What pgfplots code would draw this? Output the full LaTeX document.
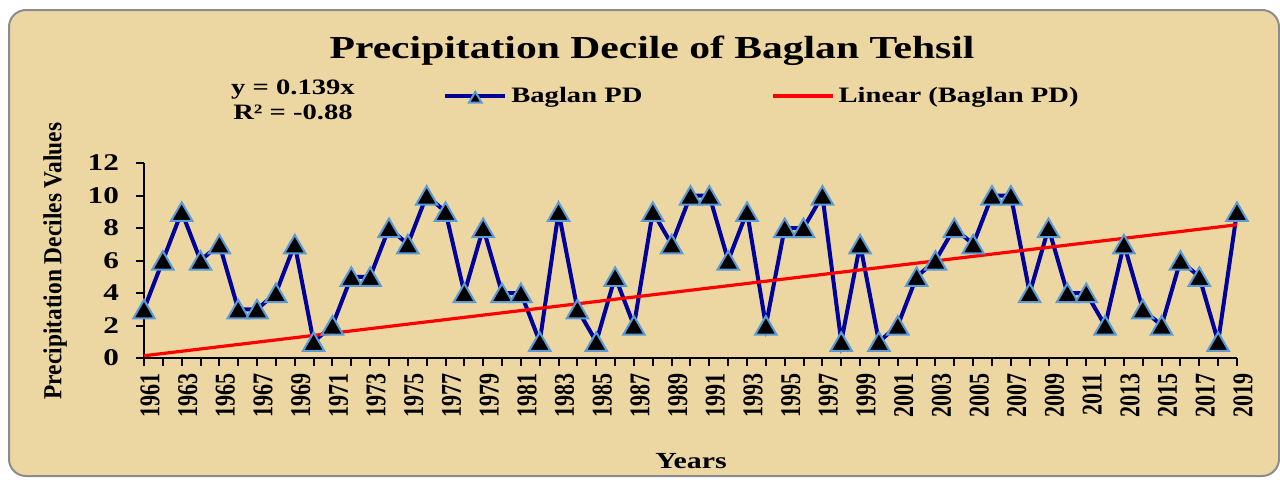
\documentclass[border=0pt]{standalone}
\usepackage{fontspec}
\setmainfont{Liberation Serif}[FakeStretch=1.3]
\newfontfamily\yearfont{Liberation Serif}[FakeStretch=0.77]
\newfontfamily\ylabfont{Liberation Serif}[FakeStretch=0.9]
\usepackage{pgfplots}
\pgfplotsset{compat=1.18}
\usepackage{pgfplotstable}
\definecolor{papyrus}{RGB}{236,215,163}
\definecolor{navyline}{RGB}{0,0,155}
\definecolor{mblue}{RGB}{91,155,213}
\definecolor{bordergray}{RGB}{140,140,140}

\pgfplotstableread{
year pd
1961 3
1962 6
1963 9
1964 6
1965 7
1966 3
1967 3
1968 4
1969 7
1970 1
1971 2
1972 5
1973 5
1974 8
1975 7
1976 10
1977 9
1978 4
1979 8
1980 4
1981 4
1982 1
1983 9
1984 3
1985 1
1986 5
1987 2
1988 9
1989 7
1990 10
1991 10
1992 6
1993 9
1994 2
1995 8
1996 8
1997 10
1998 1
1999 7
2000 1
2001 2
2002 5
2003 6
2004 8
2005 7
2006 10
2007 10
2008 4
2009 8
2010 4
2011 4
2012 2
2013 7
2014 3
2015 2
2016 6
2017 5
2018 1
2019 9
}\pddata

\pgfplotstableread{
year trend
1961 0.139
2019 8.201
}\trenddata

\begin{document}
\begin{tikzpicture}[x=1pt,y=1pt]
\fill[white] (0,0) rectangle (640,-239.5);
\draw[fill=papyrus, draw=bordergray, line width=1pt, rounded corners=8.5pt] (4.5,-5) rectangle (639.5,-238);
\begin{axis}[
  at={(72pt,-179pt)}, anchor=south west,
  scale only axis, width=546.5pt, height=97.5pt,
  xmin=1961, xmax=2019, ymin=0, ymax=12,
  axis x line*=bottom, axis y line*=left,
  axis line style={black, line width=1pt, -},
  xtick={1961,1963,...,2019},
  minor xtick={1962,1964,...,2018},
  ytick={0,2,...,12},
  tick align=outside,
  major tick length=4pt, minor tick length=4pt,
  every tick/.style={black, line width=1pt},
  every minor tick/.style={black, line width=1pt},
  clip=false,
  /pgf/number format/assume math mode=true,
  /pgf/number format/1000 sep={},
  yticklabel style={font=\bfseries\fontsize{12}{13}\selectfont, xshift=-5pt},
  xticklabel style={rotate=90, anchor=east, yshift=-3pt, font=\yearfont\bfseries\fontsize{14.3}{15}\selectfont},
  legend columns=2,
  legend style={at={(axis description cs:0.268,1.344)}, anchor=west, draw=none, fill=none,
    font=\bfseries\fontsize{11}{12}\selectfont,
    /tikz/every even column/.append style={column sep=62.5pt}},
  legend image code/.code={\draw[mark repeat=2,mark phase=2,mark size=3.6pt] plot coordinates {(0pt,0pt) (15pt,0pt) (30pt,0pt)};},
]
\addplot[navyline, line width=2pt, mark=triangle*, mark size=6.2pt,
  mark options={fill=black, draw=mblue, line width=1pt, solid, yshift=-1.5pt}] table[x=year, y=pd] {\pddata};
\addlegendentry{Baglan PD}
\addplot[red, line width=1.6pt] table[x=year, y=trend] {\trenddata};
\addlegendentry{Linear (Baglan PD)}
\end{axis}
\node[anchor=base, font=\bfseries\fontsize{16}{18}\selectfont] at (326,-29) {Precipitation Decile of Baglan Tehsil};
\node[anchor=base, font=\bfseries\fontsize{11}{12}\selectfont] at (146.5,-47) {y = 0.139x};
\node[anchor=base, font=\bfseries\fontsize{11}{12}\selectfont] at (146.5,-59.5) {R² = -0.88};
\node[anchor=base, font=\bfseries\fontsize{11.5}{12}\selectfont] at (345.5,-234) {Years};
\node[rotate=90, font=\ylabfont\bfseries\fontsize{13}{14}\selectfont] at (27.5,-130.5) {Precipitation Deciles Values};
\pgfresetboundingbox
\path (0,0) rectangle (640,-239.5);
\end{tikzpicture}
\end{document}
